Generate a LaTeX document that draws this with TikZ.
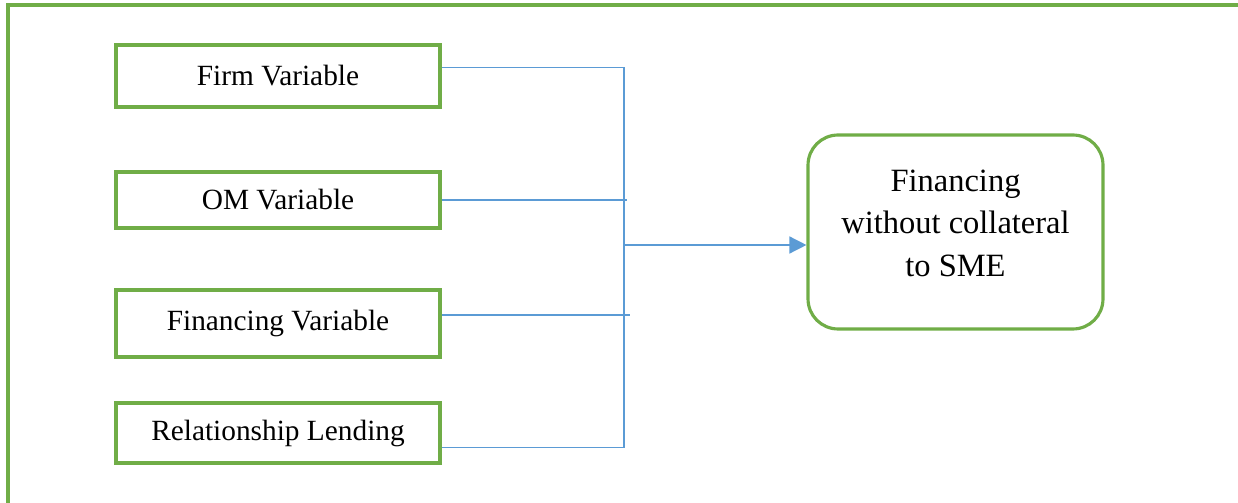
\documentclass[tikz,border=0pt]{standalone}
\usepackage{fontspec}
\setmainfont{Liberation Serif}
\usetikzlibrary{arrows.meta}

\definecolor{boxgreen}{HTML}{70AD47}
\definecolor{linkblue}{HTML}{5B9BD5}

\begin{document}
\begin{tikzpicture}[x=0.02cm,y=-0.02cm,
  varbox/.style={draw=boxgreen,line width=2pt,minimum width=6.48cm,minimum height=1.2cm,font=\fontsize{16.7}{20}\selectfont},
  link/.style={draw=linkblue,line width=0.8pt}]
  \useasboundingbox (0,0) rectangle (1238,503);
  % outer frame, cut by the page edge
  \draw[boxgreen,line width=2.2pt] (1238,5) -- (8,5) -- (8,503);

  \node[varbox,minimum height=1.24cm] (firm) at (278,76) {Firm Variable};
  \node[varbox,minimum height=1.12cm] (om) at (278,200) {OM Variable};
  \node[varbox,minimum height=1.34cm] (fin) at (278,323.5) {Financing Variable};
  \node[varbox] (rel) at (278,433) {Relationship Lending};

  \node[draw=boxgreen,line width=1.8pt,rounded corners=0.6cm,minimum width=5.9cm,minimum height=3.88cm,
    align=center,font=\fontsize{18.5}{24.4}\selectfont] (sme) at (955.5,232)
    {Financing\\without collateral\\to SME\rule[-10pt]{0pt}{10pt}};

  \coordinate (join) at (624,245);
  \coordinate (omend) at (627,199);
  \coordinate (finend) at (630,315);

  \draw[link] (firm.3.5) -| (join);
  \draw[link] (rel.-5) -| (join);
  \draw[link] (om.east) -- (om.east -| omend);
  \draw[link] (fin.3) -- (fin.3 -| finend);
  \draw[link,-{Triangle[length=0.34cm,width=0.34cm]}] (join) -- (join -| sme.west);
\end{tikzpicture}
\end{document}
